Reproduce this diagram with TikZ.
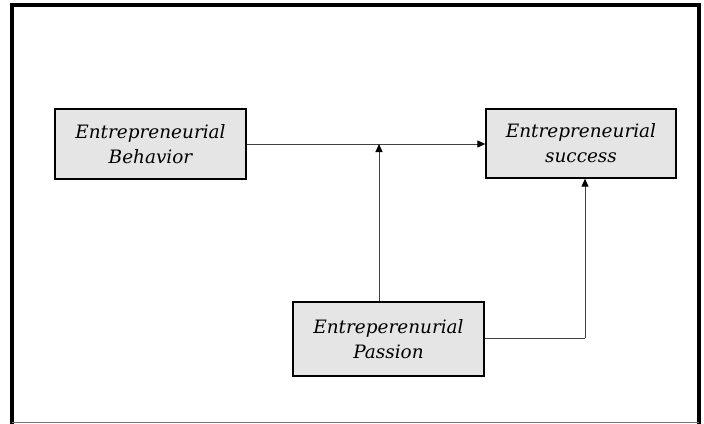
\documentclass[tikz,border=0pt]{standalone}
\usepackage{fontspec}
\setmainfont{DejaVu Serif}
\usetikzlibrary{arrows.meta}
\begin{document}
\begin{tikzpicture}[x=1bp,y=-1bp,
  box/.style={draw=black,line width=1.4bp,fill=black!10,inner sep=0pt,
    align=center,font=\itshape\fontsize{18.5}{25}\selectfont},
  conn/.style={draw=black!75,line width=1bp},
  arr/.style={conn,-{Triangle[length=8bp,width=7bp,fill=black,color=black]}}]
\useasboundingbox (0,0) rectangle (704,423);
\fill[white] (0,0) rectangle (704,423);
% frame
\draw[line width=3.5bp,line cap=rect] (12,422) -- (12,5) -- (699,5) -- (699,422);
\draw[black!55,line width=1bp] (12,422) -- (699,422);
% boxes
\node[box,minimum width=191bp,minimum height=70bp] (beh) at (150.5,144) {Entrepreneurial\\Behavior};
\node[box,minimum width=190bp,minimum height=69bp] (suc) at (581,143.5) {Entrepreneurial\\success};
\node[box,minimum width=191bp,minimum height=74bp] (pas) at (388.5,339) {Entreperenurial\\Passion};
% connectors
\coordinate (m) at (379,144);
\coordinate (c) at (585,338);
\draw[arr] (beh.east |- m) -- (suc.west |- m);
\draw[arr] (m |- pas.north) -- (m);
\draw[conn] (pas.east |- c) -- (c);
\draw[arr] (c) -- (c |- suc.south);
\end{tikzpicture}
\end{document}
